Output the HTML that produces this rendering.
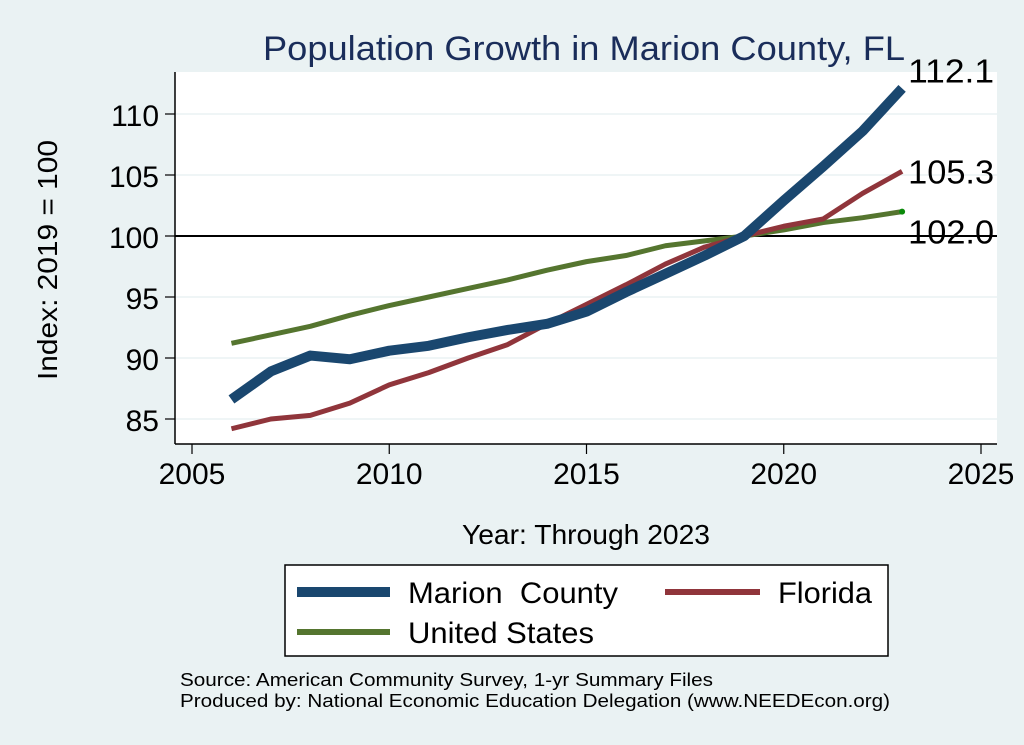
<!DOCTYPE html>
<html><head><meta charset="utf-8"><style>
body{margin:0;background:#eaf2f3;}
svg{display:block;font-family:"Liberation Sans",sans-serif;}
</style></head><body>
<svg id="chart" width="1024" height="745">
<rect x="0" y="0" width="1024" height="745" fill="#eaf2f3"/>
<rect x="175" y="72" width="822" height="372" fill="#fff"/>
<text x="584" y="60" text-anchor="middle" font-size="34" fill="#1a2d5a" textLength="642" lengthAdjust="spacingAndGlyphs">Population Growth in Marion County, FL</text>
<text transform="translate(57,260) rotate(-90)" text-anchor="middle" font-size="28" textLength="240" lengthAdjust="spacingAndGlyphs">Index: 2019 = 100</text>
<text x="586" y="544" text-anchor="middle" font-size="28" textLength="248" lengthAdjust="spacingAndGlyphs">Year: Through 2023</text>
<g id="grid"></g><g id="axes"></g><g id="series"></g>
<g>
<rect x="285" y="565" width="603" height="91" fill="#fff" stroke="#000" stroke-width="1.5"/>
<line x1="297" y1="592" x2="390" y2="592" stroke="#1a476f" stroke-width="10"/>
<text x="408" y="603" font-size="30" textLength="210" lengthAdjust="spacingAndGlyphs" style="white-space:pre" xml:space="preserve">Marion  County</text>
<line x1="665" y1="592" x2="760" y2="592" stroke="#90353b" stroke-width="6"/>
<text x="778" y="603" font-size="30" textLength="94" lengthAdjust="spacingAndGlyphs">Florida</text>
<line x1="297" y1="632" x2="390" y2="632" stroke="#55752f" stroke-width="6"/>
<text x="408" y="643" font-size="30" textLength="186" lengthAdjust="spacingAndGlyphs">United States</text>
</g>
<text x="180" y="686" font-size="18" textLength="533" lengthAdjust="spacingAndGlyphs">Source: American Community Survey, 1-yr Summary Files</text>
<text x="180" y="707" font-size="18" textLength="710" lengthAdjust="spacingAndGlyphs">Produced by: National Economic Education Delegation (www.NEEDEcon.org)</text>
</svg>
<script>
const years=[2006,2007,2008,2009,2010,2011,2012,2013,2014,2015,2016,2017,2018,2019,2020,2021,2022,2023];
const marion=[86.6,88.9,90.2,89.9,90.6,91.0,91.7,92.3,92.8,93.8,95.4,96.9,98.4,100,102.9,105.7,108.6,112.1];
const florida=[84.2,85.0,85.3,86.3,87.8,88.8,90.0,91.1,92.8,94.4,96.0,97.7,99.1,100,100.8,101.4,103.5,105.3];
const us=[91.2,91.9,92.6,93.5,94.3,95.0,95.7,96.4,97.2,97.9,98.4,99.2,99.6,100,100.5,101.1,101.5,102.0];
const yTicks=[85,90,95,100,105,110];
const xTicks=[2005,2010,2015,2020,2025];
const NS="http://www.w3.org/2000/svg";
const xs=v=>192+(v-2005)*39.45;
const ys=v=>236-(v-100)*12.2;
function mk(tag,attrs,parent){const e=document.createElementNS(NS,tag);for(const k in attrs)e.setAttribute(k,attrs[k]);parent.appendChild(e);return e;}
const grid=document.getElementById('grid'),axes=document.getElementById('axes'),ser=document.getElementById('series');
yTicks.forEach(t=>{
  if(t!==100){const g=mk('line',{x1:175,x2:997,y1:ys(t),y2:ys(t),stroke:'#eaf2f3','stroke-width':1.5},grid);
  
  }
  const tk=mk('line',{x1:165,x2:175,y1:ys(t),y2:ys(t),stroke:'#000','stroke-width':1.2},axes);
  
  
  const lb=mk('text',{x:159,y:ys(t)+12,'text-anchor':'end','font-size':30},axes);lb.textContent=t;
  
  
});
const ref=mk('line',{x1:175,x2:997,y1:ys(100),y2:ys(100),stroke:'#000','stroke-width':2},axes);


const ya=mk('line',{x1:175,x2:175,y1:72,y2:444,stroke:'#000','stroke-width':1.5},axes);


const xa=mk('line',{x1:175,x2:997,y1:444,y2:444,stroke:'#000','stroke-width':1.5},axes);


xTicks.forEach(t=>{
  const tk=mk('line',{x1:xs(t),x2:xs(t),y1:444,y2:454,stroke:'#000','stroke-width':1.2},axes);
  
  
  const lb=mk('text',{x:xs(t),y:484,'text-anchor':'middle','font-size':30},axes);lb.textContent=t;
  
  
});
function line(vals,color,w,name){
  const p=mk('polyline',{points:vals.map((v,i)=>xs(years[i])+','+ys(v)).join(' '),fill:'none',stroke:color,'stroke-width':w,'stroke-linejoin':'round'},ser);
  
  
}
line(us,'#55752f',5,'us-line');
line(florida,'#90353b',5,'florida-line');
line(marion,'#1a476f',10,'marion-line');
const last=years.length-1;
const dot=mk('circle',{cx:xs(years[last]),cy:ys(us[last]),r:3,fill:'#0a8a0a'},ser);


[[marion,'marion-end-label',-6],[florida,'florida-end-label',12],[us,'us-end-label',32]].forEach(([s,n,dy])=>{
  const t=mk('text',{x:xs(years[last])+6,y:ys(s[last])+dy,'font-size':33,textLength:86,lengthAdjust:'spacingAndGlyphs'},ser);
  t.textContent=s[last].toFixed(1);
  
  
});
</script>
</body></html>
